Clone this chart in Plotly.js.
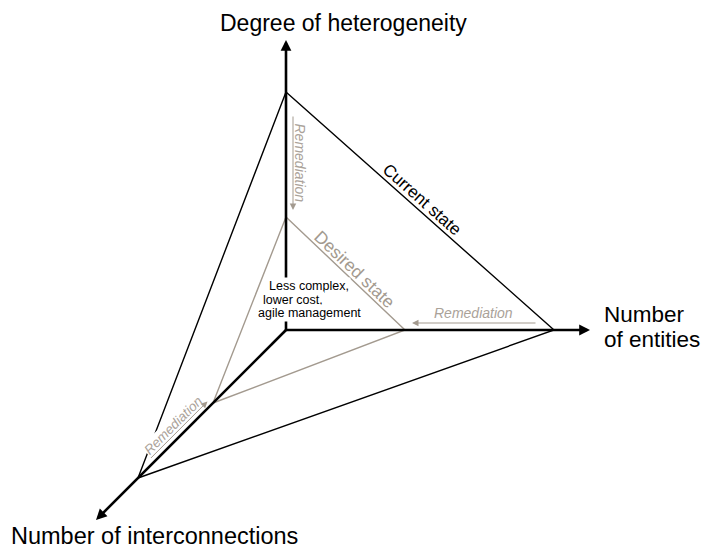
<!DOCTYPE html>
<html>
<head>
<meta charset="utf-8">
<script src="https://cdn.plot.ly/plotly-3.0.1.min.js"></script>
<style>html,body{margin:0;padding:0;background:#fff;}#chart{width:709px;height:550px;}</style>
</head>
<body>
<div id="chart"></div>
<script>
// ---- data ----
const dimensions = ["Degree of heterogeneity", "Number of entities", "Number of interconnections"];
const axisExtent = [290, 304, 190];          // length of each dimension axis
const currentState = [238, 268, 148];        // heterogeneity, entities, interconnections
const desiredState = [113, 119, 73];
const stateLabels = ["Current state", "Desired state"];
const centreNote = ["Less complex,", "lower cost,", "agile management"];
const remediationLabel = "Remediation";

// ---- styles ----
const BLACK = "#000000";
const GREY = "#a39a8f";
const LIGHT = "#aaa299";
const FONT = "Liberation Sans, Arial, sans-serif";

// oblique projection: heterogeneity up, entities right, interconnections down-left at 45deg
function proj(h, e, i) { return [e - i, h - i]; }
// helper: convert page pixel to plot coordinates (origin of axes at 286,330)
function px(x, y) { return [x - 286, 330 - y]; }

function triangle(s, color, name) {
  const a = proj(s[0], 0, 0), b = proj(0, s[1], 0), c = proj(0, 0, s[2]);
  return {x: [a[0], b[0], c[0], a[0]], y: [a[1], b[1], c[1], a[1]], mode: "lines", type: "scatter",
          line: {color: color, width: 1.4}, hoverinfo: "skip", name: name};
}

const shorten = 6;
const tipH = proj(axisExtent[0], 0, 0), tipE = proj(0, axisExtent[1], 0), tipI = proj(0, 0, axisExtent[2]);
const endH = proj(axisExtent[0] - shorten, 0, 0), endE = proj(0, axisExtent[1] - shorten, 0), endI = proj(0, 0, axisExtent[2] - shorten * 0.7);
const origin = proj(0, 0, 0);

const traces = [
  triangle(desiredState, GREY, stateLabels[1]),
  triangle(currentState, BLACK, stateLabels[0]),
  {x: [endH[0], origin[0], endE[0]], y: [endH[1], origin[1], endE[1]], mode: "lines", type: "scatter",
   line: {color: BLACK, width: 2.6}, hoverinfo: "skip"},
  {x: [origin[0], endI[0]], y: [origin[1], endI[1]], mode: "lines", type: "scatter",
   line: {color: BLACK, width: 2.6}, hoverinfo: "skip"}
];

const ann = [];
// axis arrowheads
function head(tip, from) {
  ann.push({x: tip[0], y: tip[1], ax: from[0], ay: from[1], xref: "x", yref: "y", axref: "x", ayref: "y",
            text: "", showarrow: true, arrowhead: 2, arrowsize: 0.9, arrowwidth: 2.4, arrowcolor: BLACK, standoff: 0});
}
head(tipH, endH); head(tipE, endE); head(tipI, endI);

// dimension labels
function label(text, p, xanchor, size, extra) {
  const o = Object.assign({x: p[0], y: p[1], xref: "x", yref: "y", text: text, showarrow: false,
          xanchor: xanchor, yanchor: "middle", font: {family: FONT, size: size, color: BLACK}}, extra || {});
  ann.push(o);
}
label(dimensions[0], px(343, 23), "center", 23);
const entWords = dimensions[1].split(" ");
label(entWords[0], px(602, 314), "left", 22.5);
label(entWords.slice(1).join(" "), px(602, 339), "left", 22.5);
label(dimensions[2], px(9, 536), "left", 23.5);

// state labels along the triangle edges
function edgeLabel(text, s, t, off, color, size) {
  const a = proj(s[0], 0, 0), b = proj(0, s[1], 0);
  const dx = b[0] - a[0], dy = b[1] - a[1], L = Math.hypot(dx, dy);
  const ux = dx / L, uy = dy / L;
  const nx = -uy, ny = ux; // normal pointing up-right
  const ang = Math.atan2(-dy, dx) * 180 / Math.PI;
  ann.push({x: a[0] + dx * t + nx * off, y: a[1] + dy * t + ny * off, xref: "x", yref: "y", text: text,
            showarrow: false, textangle: ang, xanchor: "center", yanchor: "middle",
            font: {family: FONT, size: size, color: color}});
}
edgeLabel(stateLabels[0], currentState, 0.482, 10, BLACK, 17);
edgeLabel(stateLabels[1], desiredState, 0.52, 9, GREY, 17.5);

// centre note (white background hides the axis behind it)
const notePos = [[267, 286], [261, 299.5], [256, 313]];
centreNote.forEach((t, k) => {
  const p = px(notePos[k][0], notePos[k][1]);
  ann.push({x: p[0], y: p[1], xref: "x", yref: "y", text: t, showarrow: false, xanchor: "left", yanchor: "middle",
            bgcolor: "#ffffff", borderpad: 1, font: {family: FONT, size: 12.5, color: BLACK}});
});

// remediation labels
const remFont = {family: FONT, size: 14, color: LIGHT, style: "italic"};
// vertical (heterogeneity)
ann.push({x: 14, y: (currentState[0] + desiredState[0]) / 2 - 8, xref: "x", yref: "y", text: remediationLabel,
          showarrow: false, textangle: 90, font: remFont});
// horizontal (entities)
ann.push({x: (currentState[1] + desiredState[1]) / 2 - 6, y: 17, xref: "x", yref: "y", text: remediationLabel,
          showarrow: false, font: remFont});
// diagonal (interconnections) with white background hiding the edge behind it
(function () {
  const iMid = 104, off = 12.7 / Math.SQRT2;
  const p = proj(0, 0, iMid);
  ann.push({x: p[0] - off, y: p[1] + off, xref: "x", yref: "y", text: remediationLabel, showarrow: false,
            textangle: -45, bgcolor: "#ffffff", borderpad: 0, font: Object.assign({}, remFont, {size: 13.5})});
})();

// remediation arrows
function remArrow(from, to) {
  ann.push({x: to[0], y: to[1], ax: from[0], ay: from[1], xref: "x", yref: "y", axref: "x", ayref: "y",
            text: "", showarrow: true, arrowhead: 2, arrowsize: 1.3, arrowwidth: 1, arrowcolor: GREY, standoff: 0});
}
{
  const a = proj(currentState[0] - 23, 0, 0), b = proj(desiredState[0] + 7, 0, 0);
  remArrow([a[0] + 7, a[1]], [b[0] + 7, b[1]]);
  const c = proj(0, currentState[1] - 17, 0), d = proj(0, desiredState[1] + 7, 0);
  remArrow([c[0], c[1] + 7], [d[0], d[1] + 7]);
  const o = 5 / Math.SQRT2;
  const e = proj(0, 0, currentState[2] - 15), f = proj(0, 0, desiredState[2] + 2);
  remArrow([e[0] - o, e[1] + o], [f[0] - o, f[1] + o]);
}

const layout = {
  width: 709, height: 550,
  margin: {l: 0, r: 0, t: 0, b: 0},
  paper_bgcolor: "#ffffff", plot_bgcolor: "#ffffff",
  showlegend: false,
  xaxis: {range: [-286, 423], visible: false, fixedrange: true},
  yaxis: {range: [-220, 330], visible: false, fixedrange: true},
  annotations: ann
};
Plotly.newPlot("chart", traces, layout, {displayModeBar: false, staticPlot: true});
</script>
</body>
</html>
